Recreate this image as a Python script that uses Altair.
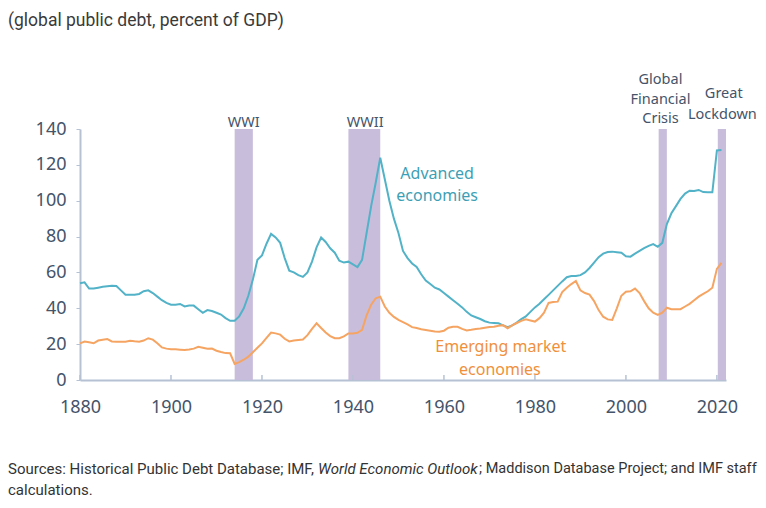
import altair as alt
import pandas as pd

years = list(range(1880, 2022))
advanced = [
    54, 54.5, 51, 51, 51.5, 52, 52.3, 52.5, 52.4, 50,
    47.6, 47.5, 47.5, 48, 49.5, 50, 48.5, 46.5, 44.5, 43,
    42, 42, 42.4, 41, 41.5, 41.5, 39.5, 37.5, 39, 38.5,
    37.5, 36.5, 34.5, 33, 33, 35.5, 40, 47, 56, 67,
    69.5, 76, 81.5, 79.5, 76.5, 68, 61, 60, 58.5, 57.5,
    60, 66, 74, 79.5, 77, 73.5, 71, 66.5, 65.5, 66,
    64.5, 63, 67, 82, 97, 110, 124, 112, 100, 90,
    82, 72, 68, 65, 63, 59, 55.5, 53.5, 51.5, 50.5,
    48.5, 46.5, 44.5, 42.5, 40.5, 38, 36, 35, 34, 32.8,
    32, 31.8, 31.6, 30.5, 29.4, 30.5, 32, 34, 35.5, 38,
    40.5, 42.5, 45, 47.5, 50, 52.5, 55, 57.3, 58, 58,
    58.5, 60, 62.5, 65.5, 68.5, 70.5, 71.4, 71.6, 71.3, 71,
    69, 68.8, 70.5, 72, 73.5, 74.8, 75.8, 74.3, 76.5, 87,
    93, 97, 101, 104, 105.6, 105.4, 106, 104.8, 104.7, 104.7,
    128, 128.3,
]
emerging = [
    20.4, 21.4, 21, 20.5, 22, 22.5, 22.8, 21.5, 21.3, 21.3,
    21.4, 21.9, 21.6, 21.4, 22, 23.3, 22.5, 20.5, 18.2, 17.5,
    17.2, 17.1, 16.9, 16.7, 17, 17.5, 18.5, 18, 17.4, 17.5,
    16.3, 15.6, 15, 14.9, 9, 10, 11.3, 13, 15.5, 18,
    20.4, 23.5, 26.5, 26, 25.3, 23, 21.5, 22, 22.3, 22.6,
    25, 28.5, 31.6, 29, 26.5, 24.5, 23.3, 23.3, 24.3, 26,
    26, 26.3, 28, 36, 42, 45.6, 46.5, 41, 37.5, 35.2,
    33.5, 32.3, 31, 29.5, 29, 28.3, 27.9, 27.5, 27.1, 26.9,
    27.5, 29.2, 29.7, 29.7, 28.5, 27.6, 28, 28.5, 28.7, 29.2,
    29.5, 29.7, 30.3, 30.6, 28.9, 30.5, 31.8, 33, 33.8, 33.2,
    32.6, 34.5, 37.5, 43, 43.5, 43.7, 49, 51.5, 53.5, 55.2,
    50, 48.5, 47.6, 44, 39, 35.3, 33.8, 33.5, 40, 47,
    49.2, 49.5, 51, 48.5, 44, 40, 37.5, 36.3, 37.5, 40.3,
    39.5, 39.4, 39.5, 41, 42.5, 44.5, 46.5, 48, 49.5, 51.5,
    62, 65.3,
]
series_names = ["Advanced economies", "Emerging market economies"]

event_names = ["WWI", "WWII", "Global Financial Crisis", "Great Lockdown"]
event_start = [1914, 1939, 2007.2, 2020.2]
event_end = [1918, 1946, 2009, 2022]

# event label lines: (text, year, value)
event_label_text = ["WWI", "WWII", "Global", "Financial", "Crisis", "Great", "Lockdown"]
event_label_x = [1916, 1942.7, 2007.6, 2007.6, 2007.6, 2021.5, 2021.2]
event_label_y = [143.3, 143.3, 167.3, 156.2, 145.6, 159.5, 147.8]

series_label_text = ["Advanced", "economies", "Emerging market", "economies"]
series_label_series = ["Advanced economies", "Advanced economies",
                       "Emerging market economies", "Emerging market economies"]
series_label_x = [1958.5, 1958.5, 1972.5, 1972.3]
series_label_y = [114.9, 102.6, 18.4, 5.6]

x_ticks = [1880, 1900, 1920, 1940, 1960, 1980, 2000, 2020]
y_ticks = [0, 20, 40, 60, 80, 100, 120, 140]

title_text = "(global public debt, percent of GDP)"
source_a = "Sources: Historical Public Debt Database; IMF, "
source_b = "World Economic Outlook"
source_c = "; Maddison Database Project; and IMF staff"
source_d = "calculations."

LINE_COLORS = ["#52b2c7", "#f6a462"]
TEXT_COLORS = ["#3d9fb5", "#f0903c"]
AXIS_TEXT = "#44546a"
AXIS_LINE = "#b6c2d4"
BAND = "#c6b9da"

df_lines = pd.DataFrame({
    "year": years * 2,
    "value": advanced + emerging,
    "series": [series_names[0]] * len(years) + [series_names[1]] * len(years),
})
df_events = pd.DataFrame({"name": event_names, "start": event_start, "end": event_end,
                          "lo": [0] * 4, "hi": [140] * 4})
df_event_labels = pd.DataFrame({"text": event_label_text, "x": event_label_x, "y": event_label_y})
df_series_labels = pd.DataFrame({"text": series_label_text, "series": series_label_series,
                                 "x": series_label_x, "y": series_label_y})
df_ticks = pd.DataFrame({"year": x_ticks, "lo": [0] * len(x_ticks), "hi": [2.8] * len(x_ticks)})

xscale = alt.Scale(domain=[1880, 2022], nice=False, zero=False)
yscale = alt.Scale(domain=[0, 140], nice=False)

x_axis = alt.Axis(values=x_ticks, format="d", ticks=False, labelFontSize=18,
                  labelColor=AXIS_TEXT, labelFont="Noto Sans", labelPadding=18,
                  domainColor=AXIS_LINE, domainWidth=2, grid=False, title=None,
                  labelFlush=False, labelOverlap=False)
y_axis = alt.Axis(values=y_ticks, tickSize=4, tickColor=AXIS_LINE, labelFontSize=18,
                  labelColor=AXIS_TEXT, labelFont="Noto Sans", labelPadding=10,
                  domainColor=AXIS_LINE, domainWidth=2, grid=False, title=None,
                  labelOverlap=False)


def X(field):
    return alt.X(field, scale=xscale, axis=x_axis)


def Y(field):
    return alt.Y(field, scale=yscale, axis=y_axis)


bands = alt.Chart(df_events).mark_rect(color=BAND, opacity=0.95).encode(
    x=X("start:Q"), x2="end:Q", y=Y("lo:Q"), y2="hi:Q",
)

color_scale = alt.Scale(domain=series_names, range=LINE_COLORS)
text_color_scale = alt.Scale(domain=series_names, range=TEXT_COLORS)

lines = alt.Chart(df_lines).mark_line(strokeWidth=2).encode(
    x=X("year:Q"), y=Y("value:Q"),
    color=alt.Color("series:N", scale=color_scale, legend=None),
)

ticks = alt.Chart(df_ticks).mark_rule(color=AXIS_LINE, strokeWidth=1.5).encode(
    x=X("year:Q"), y=Y("lo:Q"), y2="hi:Q",
)

event_labels = alt.Chart(df_event_labels).mark_text(
    font="Noto Sans", fontSize=14.5, color=AXIS_TEXT, align="center", baseline="middle"
).encode(x=X("x:Q"), y=Y("y:Q"), text="text:N")

series_labels = alt.Chart(df_series_labels).mark_text(
    font="Noto Sans", fontSize=16, align="center", baseline="middle"
).encode(
    x=X("x:Q"), y=Y("y:Q"), text="text:N",
    color=alt.Color("series:N", scale=text_color_scale, legend=None),
)


def note(txt, x, y, size, style="normal", color="#333333", font="Roboto"):
    return alt.Chart(pd.DataFrame({"t": [txt]})).mark_text(
        font=font, fontSize=size, fontStyle=style, color=color,
        align="left", baseline="middle"
    ).encode(x=alt.value(x), y=alt.value(y), text="t:N")


title = note(title_text, -72, -108, 17.5, color="#3a3a3a")
src1 = note(source_a, -72, 340, 15)
src2 = note(source_b, 238, 340, 15, style="italic")
src3 = note(source_c, 399, 340, 14.5)
src4 = note(source_d, -72, 361, 15)

chart = alt.layer(
    bands, ticks, lines, event_labels, series_labels, title, src1, src2, src3, src4
).resolve_scale(color="independent").properties(
    width=646, height=251,
    autosize=alt.AutoSizeParams(type="none"),
    padding={"left": 72, "top": 121, "right": 32, "bottom": 120},
    background="white",
).configure_view(stroke=None)

chart.save("out.html", embed_options={"renderer": "svg", "actions": False})
